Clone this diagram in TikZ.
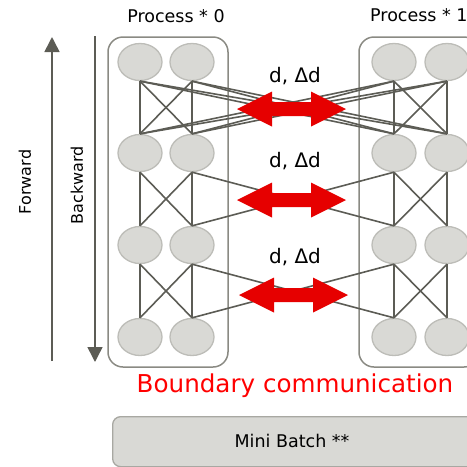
\documentclass[tikz,border=0pt]{standalone}
\usepackage{fontspec}
\setmainfont{DejaVu Sans}
\usetikzlibrary{arrows.meta,shapes.geometric}
\definecolor{nodefill}{HTML}{D9D9D5}
\definecolor{nodeedge}{HTML}{BDBDB8}
\definecolor{linkgray}{HTML}{5C5C55}
\definecolor{boxgray}{HTML}{8A8A83}
\definecolor{batchedge}{HTML}{A8A8A2}
\definecolor{arrowred}{HTML}{E60000}
\begin{document}
\begin{tikzpicture}[x=1pt,y=-1pt,
  neuron/.style={ellipse, draw=nodeedge, fill=nodefill, line width=1.3pt, minimum width=44pt, minimum height=37pt, inner sep=0pt},
  link/.style={draw=linkgray, line width=1.6pt},
  procbox/.style={draw=boxgray, line width=1.5pt, rounded corners=15pt},
  lbl/.style={font=\fontsize{17.5}{20}\selectfont, inner sep=0pt},
  vlbl/.style={font=\fontsize{16}{18}\selectfont, inner sep=0pt, rotate=90},
  dlbl/.style={font=\fontsize{20}{22}\selectfont, inner sep=0pt},
  flow/.style={draw=linkgray, line width=1.5pt, -{Triangle[width=15pt,length=15pt]}},
  redarrow/.style={fill=arrowred}
]
\useasboundingbox (0,0) rectangle (467,467);
\begin{scope}
\clip (0,0) rectangle (467,467);
% process boxes
\draw[procbox] (108,37) rectangle (228,367);
\draw[procbox] (359,37) rectangle (479,367);
% mini batch
\node[draw=batchedge, fill=nodefill, line width=1.3pt, rounded corners=8pt, minimum width=380pt, minimum height=50pt, anchor=north west] (batch) at (112,416) {};
\node[lbl] (batchtxt) at (292,441) {Mini Batch **};
% neurons
\foreach \r/\y in {1/62,2/153,3/245,4/337}{
  \node[neuron] (L\r a) at (140,\y) {};
  \node[neuron] (L\r b) at (192,\y) {};
  \node[neuron] (R\r a) at (394,\y) {};
  \node[neuron] (R\r b) at (447,\y) {};
}
% within-process links
\foreach \r/\s in {1/2,2/3,3/4}{
  \foreach \i in {a,b}{
    \foreach \j in {a,b}{
      \draw[link] (L\r\i.south) -- (L\s\j.north);
      \draw[link] (R\r\i.south) -- (R\s\j.north);
    }
  }
}
% cross links layer 1-2
\foreach \i in {a,b}{
  \foreach \j in {a,b}{
    \draw[link] (L1\i.south) -- (R2\j.north);
    \draw[link] (R1\i.south) -- (L2\j.north);
  }
}
% cross links layers 2-3, 3-4
\foreach \r/\s in {2/3,3/4}{
  \draw[link] (L\r b.south) -- (R\s a.north);
  \draw[link] (R\r a.south) -- (L\s b.north);
}
% red double arrows
\foreach \cx/\cy in {291.5/109, 291.5/200, 293.5/295}{
  \fill[redarrow] (\cx-54.5,\cy) -- (\cx-19.5,\cy-17.5) -- (\cx-19.5,\cy-7) -- (\cx+19.5,\cy-7) -- (\cx+19.5,\cy-17.5) -- (\cx+54.5,\cy) -- (\cx+19.5,\cy+17.5) -- (\cx+19.5,\cy+7) -- (\cx-19.5,\cy+7) -- (\cx-19.5,\cy+17.5) -- cycle;
}
% labels
\node[dlbl] (d1) at (295,76) {d, Δd};
\node[dlbl] (d2) at (295,161) {d, Δd};
\node[dlbl] (d3) at (295,257) {d, Δd};
\node[lbl] (p0) at (176,16) {Process * 0};
\node[lbl, anchor=west] (p1) at (370,15) {Process * 1};
\node[font=\fontsize{24.6}{28}\selectfont, text=red, inner sep=0pt] (bc) at (295,386) {Boundary communication};
% forward / backward
\coordinate (fwdS) at (52,361);
\coordinate (fwdE) at (52,37);
\coordinate (bwdS) at (95,36);
\coordinate (bwdE) at (95,362);
\draw[flow] (fwdS) -- (fwdE);
\draw[flow] (bwdS) -- (bwdE);
\node[vlbl] (fw) at (25,182) {Forward};
\node[vlbl] (bw) at (77,185) {Backward};
\end{scope}
\end{tikzpicture}
\end{document}
